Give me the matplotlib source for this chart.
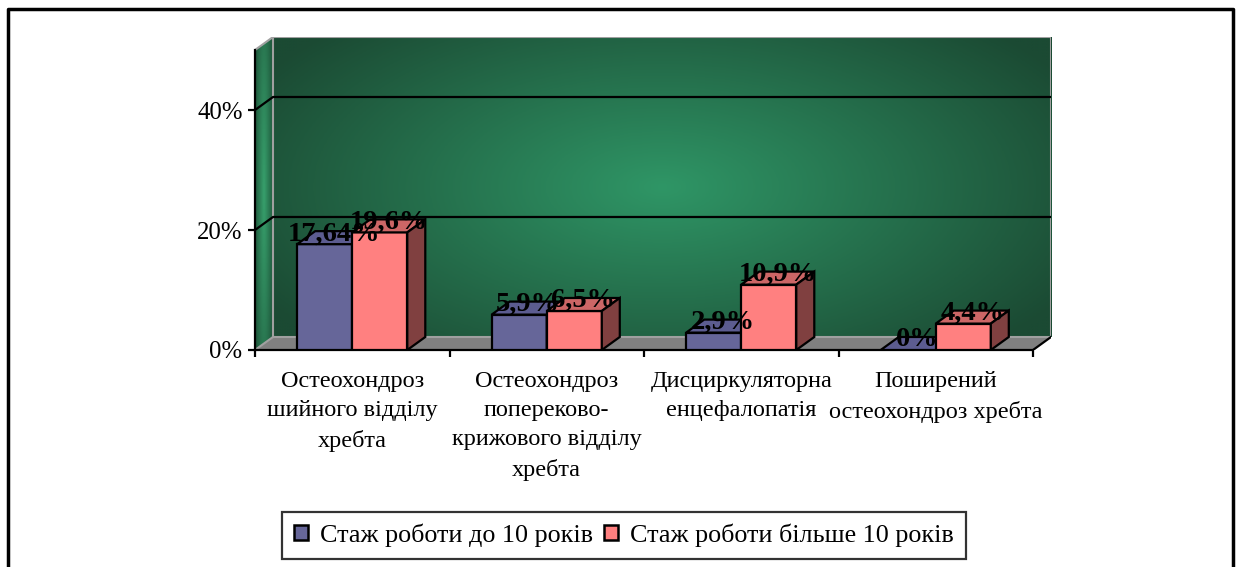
import numpy as np
import matplotlib.pyplot as plt
from matplotlib.patches import Polygon, Patch
from matplotlib.lines import Line2D

# дані діаграми
categories = ['Остеохондроз\nшийного відділу\nхребта',
              'Остеохондроз\nпопереково-\nкрижового відділу\nхребта',
              'Дисциркуляторна\nенцефалопатія',
              'Поширений\nостеохондроз хребта']
series_names = ['Стаж роботи до 10 років', 'Стаж роботи більше 10 років']
under_10 = [17.64, 5.9, 2.9, 0]
over_10 = [19.6, 6.5, 10.9, 4.4]
y_ticks = [0, 20, 40]
y_max = 50

FONT = 'Liberation Serif'
plt.rcParams['font.family'] = [FONT, 'DejaVu Serif']

front_colors = ['#666699', '#FF8080']
top_colors = ['#5C5C90', '#CC6666']
side_colors = ['#3C3C6A', '#804040']

DX = 0.0925   # глибина по x (у категоріях)
DY = 2.17     # глибина по y (у відсотках)
BAR_W = 0.283


def fmt(v):
    return f'{v:g}'.replace('.', ',') + '%'


def radial(nx, ny, light, dark, sx, sy):
    xx, yy = np.meshgrid(np.linspace(0, 1, nx), np.linspace(0, 1, ny))
    r = np.sqrt(((xx - 0.5) / sx) ** 2 + ((yy - 0.5) / sy) ** 2)
    t = np.clip(r, 0, 1)[..., None]
    light = np.array(light) / 255
    dark = np.array(dark) / 255
    return light * (1 - t) + dark * t


fig = plt.figure(figsize=(12.36, 5.67), dpi=100)
ax = fig.add_axes([255 / 1236, 217 / 567, 796 / 1236, 313 / 567])
ax.set_xlim(-0.5, 3.5 + DX)
ax.set_ylim(0, y_max + DY)

x0, x1 = -0.5, 3.5

# задня стінка
ax.imshow(radial(200, 100, (47, 150, 102), (27, 74, 51), 0.6, 0.75),
          extent=(x0 + DX, x1 + DX, DY, y_max + DY), aspect='auto', zorder=0, origin='lower')

# бічна стінка
side = Polygon([(x0, 0), (x0 + DX, DY), (x0 + DX, y_max + DY), (x0, y_max)],
               closed=True, facecolor='none', edgecolor='none')
ax.add_patch(side)
img = ax.imshow(radial(40, 100, (55, 160, 108), (30, 85, 58), 0.55, 0.9),
                extent=(x0, x0 + DX, 0, y_max + DY), aspect='auto', zorder=0, origin='lower')
img.set_clip_path(side)

# підлога
ax.add_patch(Polygon([(x0, 0), (x1, 0), (x1 + DX, DY), (x0 + DX, DY)], closed=True,
                     facecolor='#808080', edgecolor='none', zorder=1))

# контури стінок
wall_c = '#A0A0A0'
ax.plot([x0 + DX, x0 + DX, x1 + DX, x1 + DX, x0 + DX],
        [DY, y_max + DY, y_max + DY, DY, DY], color=wall_c, lw=1.5, zorder=1.5)
ax.plot([x0, x0 + DX], [y_max, y_max + DY], color=wall_c, lw=1.5, zorder=1.5)
ax.plot([x0, x0 + DX], [0, DY], color=wall_c, lw=1.5, zorder=1.5)

# лінії сітки
for g in y_ticks[1:]:
    ax.plot([x0, x0 + DX, x1 + DX], [g, g + DY, g + DY], color='black', lw=1.6, zorder=1.6)

# права діагональ підлоги
ax.plot([x1, x1 + DX], [0, DY], color='black', lw=1.6, zorder=2)

# стовпчики
xs = np.arange(len(categories))
for s, (vals, off) in enumerate([(under_10, -BAR_W), (over_10, 0.0)]):
    left = xs + off
    ax.bar(left, vals, width=BAR_W, align='edge', color=front_colors[s],
           edgecolor='black', linewidth=1.6, zorder=3 + s)
    for l, v in zip(left, vals):
        r = l + BAR_W
        ax.add_patch(Polygon([(l, v), (r, v), (r + DX, v + DY), (l + DX, v + DY)], closed=True,
                             facecolor=top_colors[s], edgecolor='black', lw=1.6, zorder=3 + s))
        ax.add_patch(Polygon([(r, 0), (r + DX, DY), (r + DX, v + DY), (r, v)], closed=True,
                             facecolor=side_colors[s], edgecolor='black', lw=1.6, zorder=3 + s))

# підписи значень
for vals, off in [(under_10, -BAR_W / 2), (over_10, BAR_W / 2)]:
    for x, v in zip(xs, vals):
        ax.text(x + off + DX / 2, v + DY * 0.8, fmt(v), ha='center', va='center',
                fontsize=20.5, fontweight='bold', color='black', zorder=10)

# осі
for sp in ['top', 'right']:
    ax.spines[sp].set_visible(False)
ax.spines['left'].set_bounds(0, y_max)
ax.spines['bottom'].set_bounds(x0, x1)
for sp in ['left', 'bottom']:
    ax.spines[sp].set_linewidth(1.6)
    ax.spines[sp].set_zorder(2.5)

ax.set_yticks(y_ticks)
ax.set_yticklabels([f'{t}%' for t in y_ticks], fontsize=17.8)
ax.tick_params(axis='y', length=5, width=1.6, pad=4)

ax.set_xticks(np.arange(len(categories) + 1) - 0.5)
ax.set_xticklabels([])
ax.tick_params(axis='x', which='major', length=5, width=1.6)
ax.set_xticks(xs, minor=True)
ax.set_xticklabels(categories, minor=True, fontsize=17.5, linespacing=1.52)
ax.tick_params(axis='x', which='minor', length=0, pad=15)

# легенда
handles = [Patch(facecolor=c, edgecolor='black', linewidth=1.8) for c in front_colors]
leg = fig.legend(handles, series_names, loc='center', bbox_to_anchor=(624 / 1236, 1 - 535 / 567),
                 ncol=2, frameon=True, fancybox=False, edgecolor='black',
                 handlelength=0.55, handleheight=0.55, handletextpad=0.45, columnspacing=0.42,
                 borderpad=0.45, borderaxespad=0, prop={'family': FONT, 'size': 18.8})
leg.get_frame().set_linewidth(1.6)

# рамка
fig.add_artist(Line2D([8 / 1236, 8 / 1236, 1233 / 1236, 1233 / 1236],
                      [0, 1 - 9 / 567, 1 - 9 / 567, 0],
                      transform=fig.transFigure, color='black', lw=2.5))

fig.savefig('out.png', dpi=100)
